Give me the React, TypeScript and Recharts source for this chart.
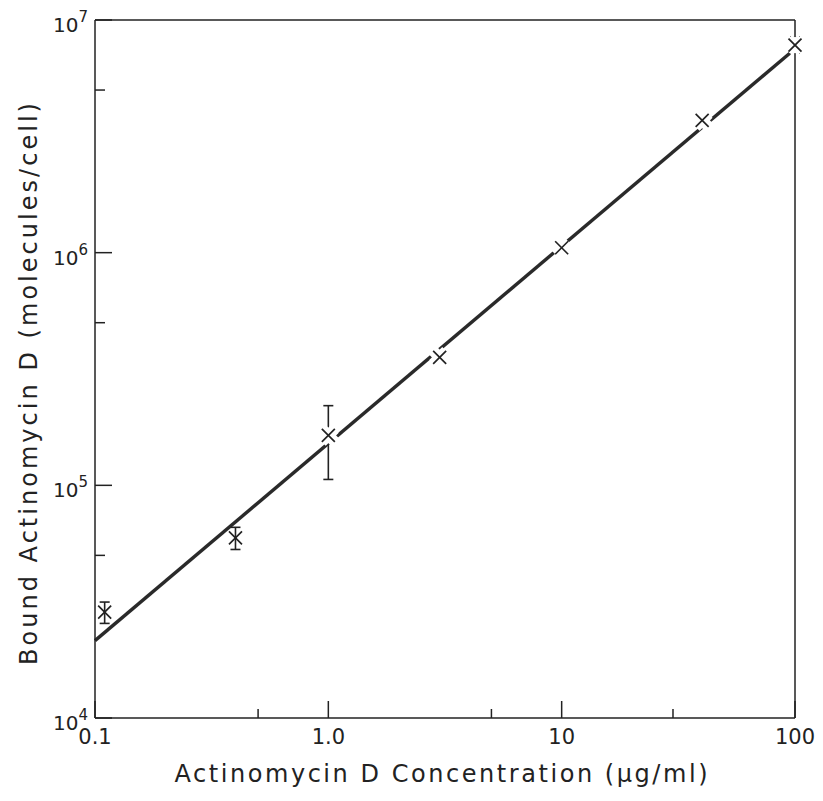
import { ComposedChart, Line, Scatter, ErrorBar, XAxis, YAxis, Label } from 'recharts'

// Actinomycin D concentration (ug/ml) vs bound molecules per cell
const concentration = [0.11, 0.4, 1.0, 3.0, 10, 40, 100]
const bound = [2.85e4, 5.95e4, 1.64e5, 3.55e5, 1.05e6, 3.7e6, 7.8e6]
const boundLow = [2.55e4, 5.3e4, 1.06e5, null, null, null, 7.2e6]
const boundHigh = [3.15e4, 6.6e4, 2.2e5, null, null, null, 8.45e6]

// fitted line end points
const fitX = [0.1, 95]
const fitY = [2.15e4, 7.2e6]

const xTicks = [0.1, 0.5, 1, 5, 10, 30, 100]
const xTickLabels: Record<string, string> = { '0.1': '0.1', '1': '1.0', '10': '10', '100': '100' }
const yTicks = [1e4, 5e4, 1e5, 5e5, 1e6, 5e6, 1e7]
const yTickExponents: Record<string, string> = { '10000': '4', '100000': '5', '1000000': '6', '10000000': '7' }

const points = concentration.map((x, i) => ({
  x,
  y: bound[i],
  err: boundLow[i] != null ? [bound[i] - (boundLow[i] as number), (boundHigh[i] as number) - bound[i]] : undefined,
}))
// the drawn line is broken round the markers that sit on it
const onLine = points.filter((p) => p.x >= 1)
const fit = fitX.map((x, i) => ({ x, y: fitY[i] }))

const ink = '#222'
const font = '"DejaVu Sans", sans-serif'

const BottomTick = (props: any) => {
  const { x, y, payload } = props
  const label = xTickLabels[String(payload.value)]
  return (
    <g>
      <line x1={x} x2={x} y1={y} y2={y - (label ? 17 : 9)} stroke={ink} strokeWidth={1.5} />
      {label && (
        <text x={x} y={y + 26} textAnchor="middle" fontSize={21} fill={ink} fontFamily={font}>
          {label}
        </text>
      )}
    </g>
  )
}

const TopTick = (props: any) => {
  const { x, y, payload } = props
  const major = xTickLabels[String(payload.value)]
  return <line x1={x} x2={x} y1={y} y2={y + (major ? 17 : 9)} stroke={ink} strokeWidth={1.5} />
}

const LeftTick = (props: any) => {
  const { x, y, payload } = props
  const exp = yTickExponents[String(payload.value)]
  return (
    <g>
      <line x1={x} x2={x + (exp ? 17 : 10)} y1={y} y2={y} stroke={ink} strokeWidth={1.5} />
      {exp && (
        <text x={x - 7} y={y + 12} textAnchor="end" fontSize={20} fill={ink} fontFamily={font}>
          10<tspan dy={-10} fontSize={15}>{exp}</tspan>
        </text>
      )}
    </g>
  )
}

const RightTick = (props: any) => {
  const { x, y, payload } = props
  const major = yTickExponents[String(payload.value)]
  return <line x1={x} x2={x - (major ? 17 : 10)} y1={y} y2={y} stroke={ink} strokeWidth={1.5} />
}

const Cross = (props: any) => {
  const { cx, cy, halo } = props
  const s = 6.5
  const stroke = halo ? '#fff' : ink
  const w = halo ? 11 : 1.7
  return (
    <g>
      <line x1={cx - s} y1={cy - s} x2={cx + s} y2={cy + s} stroke={stroke} strokeWidth={w} />
      <line x1={cx - s} y1={cy + s} x2={cx + s} y2={cy - s} stroke={stroke} strokeWidth={w} />
    </g>
  )
}

export default function App() {
  return (
    <div style={{ position: 'absolute', left: 0, top: 0, background: '#fff' }}>
      <ComposedChart width={823} height={801} margin={{ top: 0, right: 0, bottom: 0, left: 0 }}>
        <XAxis
          dataKey="x"
          type="number"
          scale="log"
          domain={[0.1, 100]}
          ticks={xTicks}
          interval={0}
          height={83}
          tickSize={0}
          tickMargin={0}
          tickLine={false}
          tick={<BottomTick />}
          axisLine={{ stroke: ink, strokeWidth: 1.5 }}
        >
          <Label
            content={() => (
              <text x={441} y={782} textAnchor="middle" fontSize={24} fill={ink} fontFamily={font} textLength={533} lengthAdjust="spacing">
                Actinomycin D Concentration (μg/ml)
              </text>
            )}
          />
        </XAxis>
        <XAxis
          xAxisId="top"
          orientation="top"
          dataKey="x"
          type="number"
          scale="log"
          domain={[0.1, 100]}
          ticks={xTicks}
          interval={0}
          height={20}
          tickSize={0}
          tickMargin={0}
          tickLine={false}
          tick={<TopTick />}
          axisLine={{ stroke: ink, strokeWidth: 1.5 }}
        />
        <YAxis
          dataKey="y"
          type="number"
          scale="log"
          domain={[1e4, 1e7]}
          ticks={yTicks}
          interval={0}
          width={95}
          tickSize={0}
          tickMargin={0}
          tickLine={false}
          tick={<LeftTick />}
          axisLine={{ stroke: ink, strokeWidth: 1.5 }}
        >
          <Label
            content={() => (
              <text
                x={37}
                y={384}
                transform="rotate(-90 37 384)"
                textAnchor="middle"
                fontSize={24}
                fill={ink}
                fontFamily={font}
                textLength={562}
                lengthAdjust="spacing"
              >
                Bound Actinomycin D (molecules/cell)
              </text>
            )}
          />
        </YAxis>
        <YAxis
          yAxisId="right"
          orientation="right"
          dataKey="y"
          type="number"
          scale="log"
          domain={[1e4, 1e7]}
          ticks={yTicks}
          interval={0}
          width={28}
          tickSize={0}
          tickMargin={0}
          tickLine={false}
          tick={<RightTick />}
          axisLine={{ stroke: ink, strokeWidth: 1.5 }}
        />
        <Line data={fit} dataKey="y" type="linear" stroke="#2a2a2a" strokeWidth={3.4} dot={false} isAnimationActive={false} />
        <Scatter data={onLine} shape={<Cross halo />} isAnimationActive={false} />
        <Scatter data={points} shape={<Cross />} isAnimationActive={false}>
          <ErrorBar dataKey="err" direction="y" width={5} stroke={ink} strokeWidth={1.6} />
        </Scatter>
      </ComposedChart>
    </div>
  )
}
